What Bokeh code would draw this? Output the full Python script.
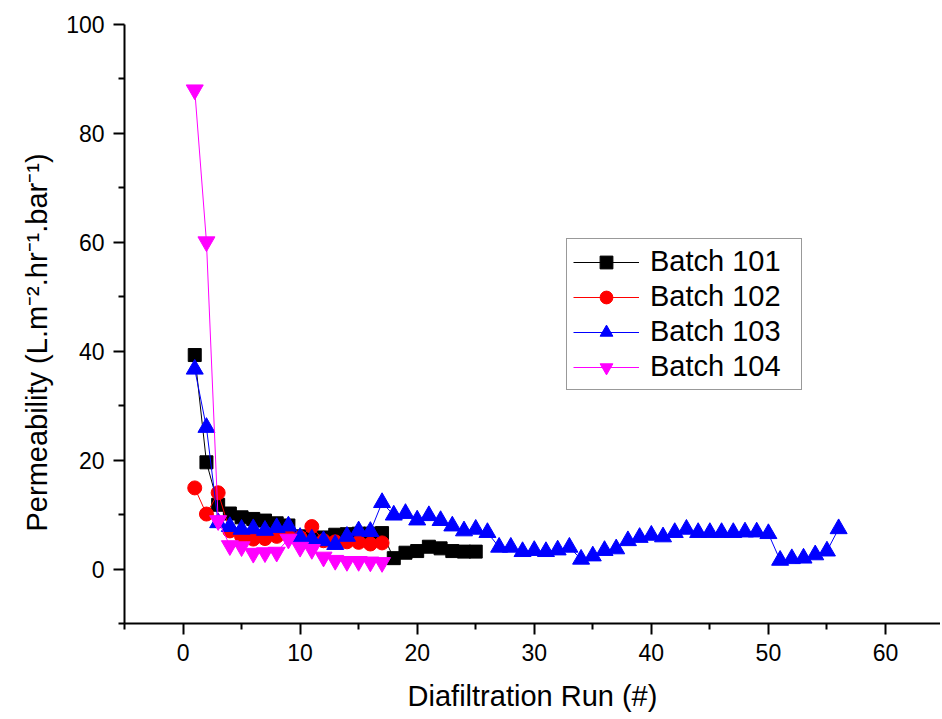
import math
from bokeh.plotting import figure
from bokeh.models import Range1d, FixedTicker, Legend, LegendItem, Title
from bokeh.embed import file_html
from bokeh.resources import INLINE

# ---- data ----
runs_101 = list(range(1, 26))
perm_101 = [39.3, 19.6, 11.8, 10.2, 9.5, 9.2, 8.9, 8.4, 8.0, 6.0, 5.8, 5.8, 6.3,
            6.4, 6.5, 6.5, 6.6, 2.0, 3.0, 3.3, 4.1, 3.8, 3.3, 3.2, 3.2]

runs_102 = list(range(1, 18))
perm_102 = [14.9, 10.1, 14.0, 7.0, 6.0, 5.5, 5.6, 6.0, 6.2, 5.8, 7.8, 5.2, 5.0,
            5.0, 4.9, 4.6, 4.8]

runs_103 = list(range(1, 57))
perm_103 = [36.7, 26.0, 8.5, 7.8, 7.3, 7.4, 7.1, 7.6, 7.9, 5.8, 5.5, 5.2, 4.5,
            6.0, 7.0, 6.9, 12.2, 9.9, 10.2, 9.0, 9.8, 8.9, 7.9, 7.0, 7.3, 6.7,
            4.0, 4.0, 3.2, 3.4, 3.2, 3.5, 4.0, 1.8, 2.4, 3.4, 3.7, 5.2, 5.8,
            6.2, 5.9, 6.7, 7.3, 6.7, 6.7, 6.7, 6.7, 6.8, 6.8, 6.5, 1.6, 1.9,
            2.0, 2.6, 3.3, 7.4]

runs_104 = list(range(1, 18))
perm_104 = [88.0, 60.1, 8.9, 4.3, 4.1, 2.9, 3.0, 3.1, 5.5, 4.0, 3.6, 2.2, 1.6,
            1.4, 1.4, 1.3, 1.2]

series_labels = ["Batch 101", "Batch 102", "Batch 103", "Batch 104"]
x_major = [0, 10, 20, 30, 40, 50, 60]
x_minor = [-5, 5, 15, 25, 35, 45, 55, 65]
y_major = [0, 20, 40, 60, 80, 100]
y_minor = [-10, 10, 30, 50, 70, 90]

FONT = "Liberation Sans"

p = figure(width=940, height=717, output_backend="svg", toolbar_location=None,
           x_range=Range1d(-5, 64.7), y_range=Range1d(-10, 100),
           min_border_left=124, min_border_right=0, min_border_top=24,
           min_border_bottom=94)
p.outline_line_color = None
p.xgrid.visible = False
p.ygrid.visible = False
p.background_fill_color = "white"
p.border_fill_color = "white"

for ax, maj, mnr in ((p.xaxis[0], x_major, x_minor), (p.yaxis[0], y_major, y_minor)):
    ax.ticker = FixedTicker(ticks=maj, minor_ticks=mnr)
    ax.axis_line_width = 2
    ax.axis_line_color = "black"
    ax.major_tick_line_width = 2
    ax.minor_tick_line_width = 2
    ax.major_tick_line_color = "black"
    ax.minor_tick_line_color = "black"
    ax.major_tick_out = 11
    ax.major_tick_in = 0
    ax.minor_tick_out = 6
    ax.minor_tick_in = 0
    ax.major_label_text_font = FONT
    ax.major_label_text_font_size = "23px"
    ax.major_label_text_color = "black"
    ax.major_label_standoff = 9

p.xaxis.axis_label = "Diafiltration Run (#)"
p.xaxis.axis_label_text_font = FONT
p.xaxis.axis_label_text_font_size = "29px"
p.xaxis.axis_label_text_font_style = "normal"
p.xaxis.axis_label_text_color = "black"
p.xaxis.axis_label_standoff = 16

ytitle = Title(text="Permeability (L.m\u207b\u00b2.hr\u207b\u00b9.bar\u207b\u00b9)",
               align="left", offset=92, standoff=22,
               text_font=FONT, text_font_size="29px", text_font_style="normal",
               text_color="black")
p.add_layout(ytitle, "left")

l1 = p.line(runs_101, perm_101, line_color="black", line_width=1)
m1 = p.scatter(runs_101, perm_101, marker="square", size=13, fill_color="black", line_color="black")
l2 = p.line(runs_102, perm_102, line_color="red", line_width=1)
m2 = p.scatter(runs_102, perm_102, marker="circle", size=14, fill_color="red", line_color="red")
l3 = p.line(runs_103, perm_103, line_color="blue", line_width=1)
m3 = p.scatter(runs_103, perm_103, marker="triangle", size=17, fill_color="blue", line_color="blue")
l4 = p.line(runs_104, perm_104, line_color="magenta", line_width=1)
m4 = p.scatter(runs_104, perm_104, marker="inverted_triangle", size=17, fill_color="magenta", line_color="magenta")

items = [LegendItem(label=series_labels[0], renderers=[l1, m1]),
         LegendItem(label=series_labels[1], renderers=[l2, m2]),
         LegendItem(label=series_labels[2], renderers=[l3, m3]),
         LegendItem(label=series_labels[3], renderers=[l4, m4])]
legend = Legend(items=items, location=(442, 233), padding=6, spacing=2, margin=0,
                glyph_width=66, glyph_height=32, label_height=32, label_width=145,
                label_standoff=11, label_text_font=FONT, label_text_font_size="29px",
                label_text_color="black", border_line_color="#333333",
                border_line_width=1, background_fill_color="white",
                background_fill_alpha=1.0)
p.add_layout(legend, "center")

open("out.html", "w").write(file_html(p, INLINE))
